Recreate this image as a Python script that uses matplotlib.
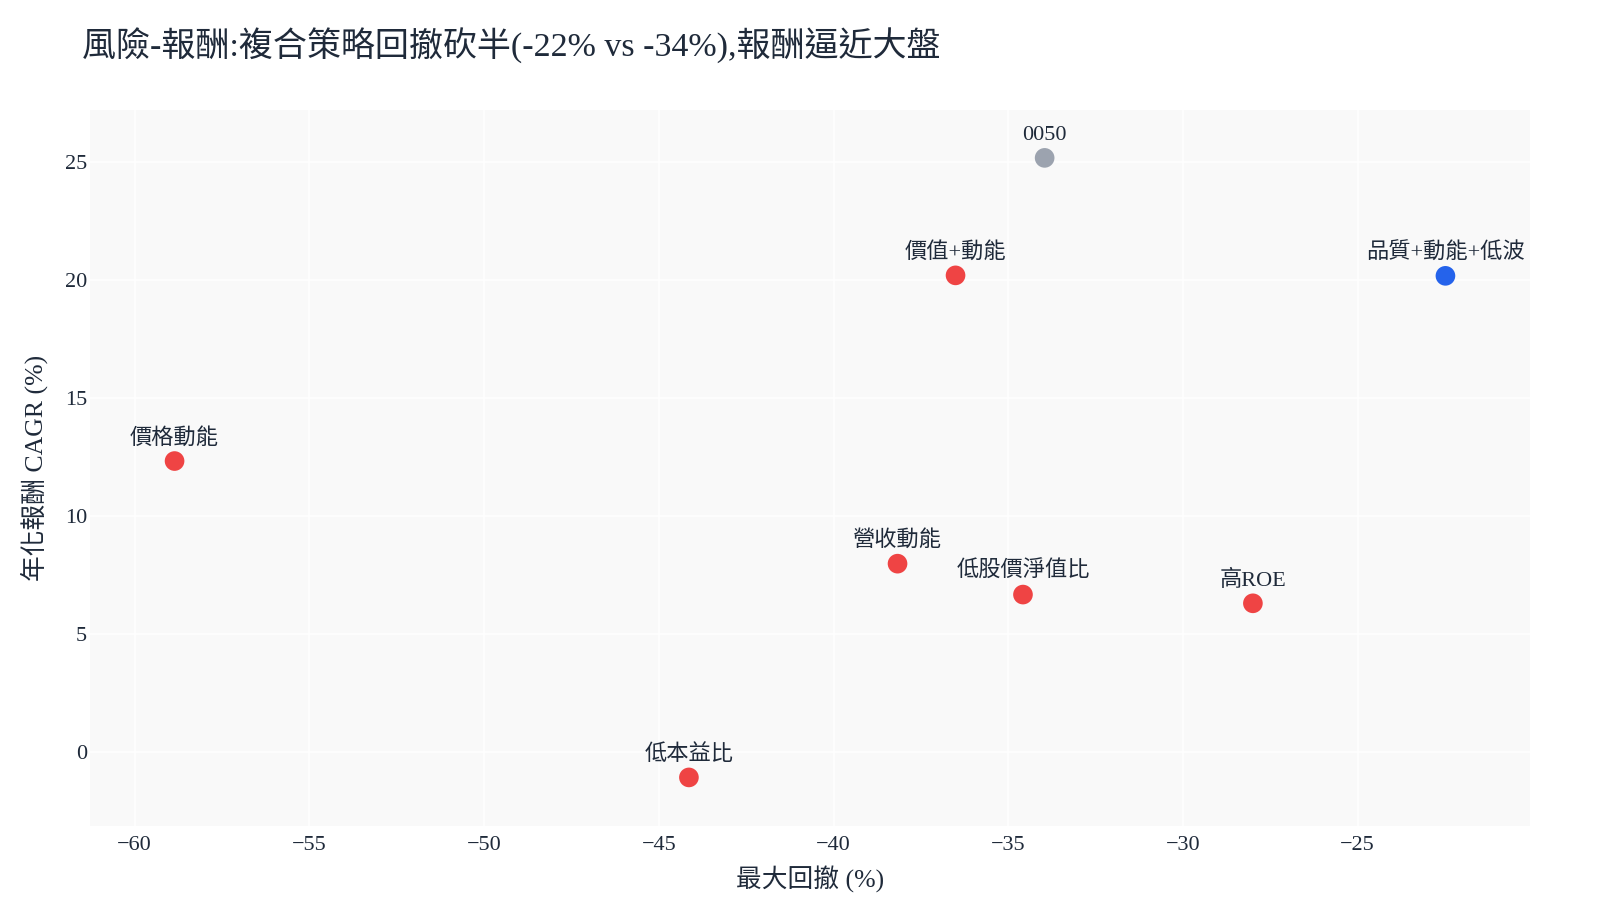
import matplotlib
matplotlib.use("Agg")
import matplotlib.pyplot as plt

plt.rcParams['font.family'] = ['Liberation Serif', 'Noto Sans CJK TC', 'DejaVu Sans']
plt.rcParams['axes.unicode_minus'] = True

# Data
names = ['價格動能', '0050', '價值+動能', '品質+動能+低波', '低本益比', '營收動能', '低股價淨值比', '高ROE']
max_drawdown = [-58.86, -33.96, -36.51, -22.49, -44.14, -38.17, -34.58, -28.0]
cagr = [12.32, 25.17, 20.19, 20.17, -1.09, 7.97, 6.66, 6.29]
colors = ['#ef4444', '#9ca3af', '#ef4444', '#2563eb', '#ef4444', '#ef4444', '#ef4444', '#ef4444']

x_ticks = [-60, -55, -50, -45, -40, -35, -30, -25]
y_ticks = [0, 5, 10, 15, 20, 25]

TEXT = '#1f2a3a'

fig = plt.figure(figsize=(16, 9), dpi=100)
fig.patch.set_facecolor('white')
ax = fig.add_axes([0.05625, 0.0822, 0.9, 0.7956])
ax.set_facecolor('#f9f9f9')

ax.scatter(max_drawdown, cagr, s=200, c=colors, zorder=3, linewidths=0)
for n, x, y in zip(names, max_drawdown, cagr):
    ax.annotate(n, (x, y), xytext=(0, 9), textcoords='offset points',
                ha='center', va='bottom', fontsize=16, color=TEXT, zorder=4)

ax.set_xlim(-61.28, -20.07)
ax.set_ylim(-3.15, 27.2)
ax.set_xticks(x_ticks)
ax.set_yticks(y_ticks)
ax.grid(True, color='white', linewidth=1.2, zorder=0)
ax.set_axisbelow(True)
for s in ax.spines.values():
    s.set_visible(False)
ax.tick_params(axis='both', length=0, labelsize=16, colors=TEXT)
ax.tick_params(axis='x', pad=7)
ax.tick_params(axis='y', pad=2)

ax.set_xlabel('最大回撤 (%)', fontsize=18.5, color=TEXT, labelpad=8)
ax.set_ylabel('年化報酬 CAGR (%)', fontsize=18.5, color=TEXT, labelpad=12)

fig.text(82 / 1600, 1 - 46 / 900, '風險-報酬:複合策略回撤砍半(-22% vs -34%),報酬逼近大盤',
         fontsize=24.5, color=TEXT, ha='left', va='center')

fig.savefig('out.png', dpi=100)
